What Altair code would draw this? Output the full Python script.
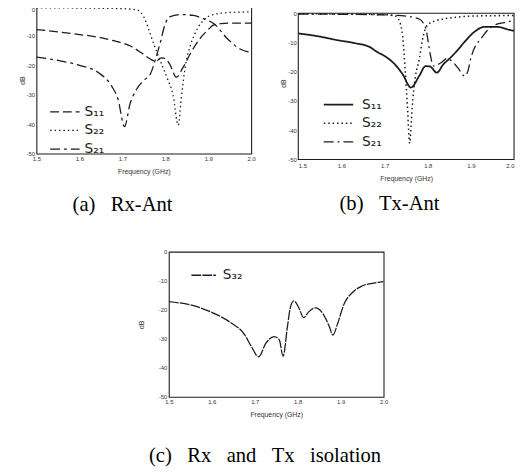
import altair as alt
import pandas as pd

X_DOMAIN = [1.5, 2.0]
X_TICKS = [1.5, 1.6, 1.7, 1.8, 1.9, 2.0]
Y_TICKS = [0, -10, -20, -30, -40, -50]
Y_FRAME = [-50, 0]

# (a) Rx-Ant
a_names = ["S\u2081\u2081", "S\u2082\u2082", "S\u2082\u2081"]
a_s11_f = [1.50, 1.55, 1.60, 1.64, 1.68, 1.72, 1.745, 1.765, 1.778, 1.79, 1.80, 1.81, 1.826, 1.84, 1.86, 1.88, 1.90, 1.913, 1.93, 1.96, 2.00]
a_s11_db = [-7.8, -8.6, -9.5, -10.3, -11.6, -13.5, -15.8, -17.8, -18.7, -17.4, -17.6, -19.5, -24.0, -21.0, -15.5, -11.0, -7.8, -6.2, -5.8, -5.6, -5.6]
a_s22_f = [1.50, 1.60, 1.70, 1.735, 1.75, 1.762, 1.775, 1.79, 1.805, 1.818, 1.83, 1.838, 1.847, 1.86, 1.875, 1.89, 1.91, 1.95, 2.00]
a_s22_db = [-0.4, -0.5, -0.7, -1.2, -3.5, -8.0, -13.5, -19.0, -24.5, -30.0, -40.3, -30.0, -20.0, -12.5, -7.5, -4.5, -2.8, -2.0, -1.8]
a_s21_f = [1.50, 1.55, 1.60, 1.644, 1.674, 1.69, 1.705, 1.718, 1.731, 1.752, 1.765, 1.777, 1.788, 1.80, 1.81, 1.833, 1.865, 1.888, 1.913, 1.947, 1.975, 2.00]
a_s21_db = [-17.2, -18.3, -20.0, -22.4, -26.8, -31.5, -40.8, -33.0, -28.6, -24.8, -23.0, -18.0, -12.4, -5.8, -3.5, -2.7, -3.0, -4.1, -5.8, -11.3, -14.5, -15.6]

# (b) Tx-Ant
b_names = ["S\u2081\u2081", "S\u2082\u2082", "S\u2082\u2081"]
b_s11_f = [1.50, 1.55, 1.59, 1.63, 1.666, 1.681, 1.704, 1.727, 1.742, 1.761, 1.78, 1.795, 1.805, 1.821, 1.836, 1.852, 1.871, 1.886, 1.908, 1.931, 1.961, 1.992, 2.00]
b_s11_db = [-6.9, -8.0, -9.2, -10.2, -11.6, -13.1, -15.0, -18.0, -20.9, -25.4, -21.5, -18.1, -18.2, -20.3, -17.5, -15.3, -12.3, -9.7, -6.4, -4.7, -4.7, -5.8, -6.0]
b_s22_f = [1.50, 1.60, 1.70, 1.725, 1.735, 1.742, 1.748, 1.753, 1.758, 1.764, 1.771, 1.78, 1.79, 1.80, 1.82, 1.86, 1.90, 2.00]
b_s22_db = [-0.2, -0.3, -0.5, -1.0, -3.0, -8.0, -20.0, -32.0, -44.4, -32.0, -22.0, -16.0, -7.5, -4.0, -2.5, -1.5, -1.0, -0.8]
b_s21_f = [1.50, 1.60, 1.70, 1.75, 1.78, 1.795, 1.806, 1.813, 1.83, 1.845, 1.86, 1.87, 1.886, 1.893, 1.90, 1.908, 1.924, 1.939, 1.954, 1.984, 2.00]
b_s21_db = [-0.3, -0.4, -0.6, -1.0, -2.0, -5.0, -14.2, -18.0, -17.0, -15.5, -17.0, -18.7, -21.5, -19.8, -15.3, -12.0, -8.6, -5.8, -4.1, -3.0, -2.4]

# (c) Rx and Tx isolation
c_names = ["S\u2083\u2082"]
c_s32_f = [1.50, 1.555, 1.608, 1.642, 1.677, 1.692, 1.709, 1.726, 1.745, 1.757, 1.766, 1.776, 1.783, 1.791, 1.802, 1.814, 1.825, 1.842, 1.859, 1.874, 1.882, 1.893, 1.908, 1.927, 1.95, 1.98, 2.00]
c_s32_db = [-17.2, -18.5, -21.4, -24.2, -28.7, -32.6, -36.2, -31.5, -29.2, -30.3, -36.0, -25.9, -19.1, -16.9, -19.1, -22.7, -20.8, -19.3, -21.4, -25.9, -28.7, -24.7, -18.0, -14.1, -11.8, -10.7, -10.3]

INK = "#1c1c1c"
TXT = "#333333"
SP = "\u00a0\u00a0\u00a0"


def series_df(items):
    rows = []
    for name, fs, ds in items:
        rows += [{"s": name, "f": f, "db": d} for f, d in zip(fs, ds)]
    return pd.DataFrame(rows)


def panel(items, dashes, widths, ydom, w, h, lx, ly, sym_len, lab_off,
          ytp, xtp, xlp, cap, cap_off, cap_dx, framed, flush_x=False, top_cond=False):
    df = series_df(items)
    names = [it[0] for it in items]
    leg = dict(orient="none", legendX=lx, legendY=ly, title=None, symbolType="stroke",
               symbolSize=sym_len ** 2, symbolStrokeColor=INK, labelFont="DejaVu Sans",
               labelFontSize=14, labelColor=INK, labelOffset=lab_off, padding=0,
               rowPadding=0, clipHeight=19)
    ybase = ({"condition": {"test": "datum.value == 0", "value": "top"}, "value": "middle"}
             if top_cond else "middle")
    xaxis = alt.Axis(values=X_TICKS, format=".1f", title="Frequency (GHz)", labelFont="Liberation Sans",
                     labelFontSize=6, labelColor=TXT, labelPadding=xlp, titleFont="Liberation Sans",
                     titleFontSize=7, titleFontWeight="normal", titleColor=TXT, titlePadding=xtp,
                     ticks=False, domain=False, grid=False, labelFlush=flush_x)
    yaxis = alt.Axis(values=Y_TICKS, labelExpr="'' + datum.value", title="dB", labelFont="Liberation Sans",
                     labelFontSize=6, labelColor=TXT, labelPadding=2, labelBaseline=ybase,
                     titleFont="Liberation Sans", titleFontSize=7, titleFontWeight="normal",
                     titleColor=TXT, titlePadding=ytp, ticks=False, domain=False, grid=False)
    xenc = alt.X("f:Q", scale=alt.Scale(domain=X_DOMAIN, nice=False, zero=False), axis=xaxis)
    yenc = alt.Y("db:Q", scale=alt.Scale(domain=ydom, nice=False, zero=False), axis=yaxis)
    enc = dict(x=xenc, y=yenc,
               strokeDash=alt.StrokeDash("s:N", scale=alt.Scale(domain=names, range=dashes),
                                         legend=alt.Legend(**leg)))
    if len(names) > 1:
        enc["strokeWidth"] = alt.StrokeWidth("s:N", scale=alt.Scale(domain=names, range=widths),
                                             legend=alt.Legend(**leg))
        lines = alt.Chart(df).mark_line(color=INK, clip=True, interpolate="monotone").encode(**enc)
    else:
        lines = alt.Chart(df).mark_line(color=INK, clip=True, interpolate="monotone",
                                        strokeWidth=widths[0]).encode(**enc)
    title = alt.TitleParams(text=cap, orient="bottom", anchor="middle", frame="group",
                            font="Liberation Serif", fontSize=21, fontWeight="normal",
                            color="black", offset=cap_off, dx=cap_dx)
    if framed:
        fdf = pd.DataFrame({"f": [X_DOMAIN[0]], "f2": [X_DOMAIN[1]], "db": [Y_FRAME[0]], "db2": [Y_FRAME[1]]})
        frame = alt.Chart(fdf).mark_rect(fillOpacity=0, stroke=INK, strokeWidth=1.1).encode(
            x=xenc, x2="f2", y=yenc, y2="db2")
        ch = alt.layer(frame, lines).properties(view=alt.ViewBackground(stroke="transparent"))
    else:
        ch = lines.properties(view=alt.ViewBackground(stroke=INK, strokeWidth=1.1))
    return ch.properties(width=w, height=h, title=title)


pa = panel([(a_names[0], a_s11_f, a_s11_db), (a_names[1], a_s22_f, a_s22_db), (a_names[2], a_s21_f, a_s21_db)],
           [[9, 4], [1.5, 3], [10, 4, 3, 4]], [1.3, 1.3, 1.3], [-50, 0], 219, 150,
           13, 97.8, 30, 4, 1, 6, 2, "(a)" + SP + "Rx-Ant", 20, -21.7, False, top_cond=True)
pb = panel([(b_names[0], b_s11_f, b_s11_db), (b_names[1], b_s22_f, b_s22_db), (b_names[2], b_s21_f, b_s21_db)],
           [[1, 0], [1.5, 3], [10, 4, 2, 4]], [1.8, 1.3, 1.3], [-50, 2.25], 220, 156,
           25, 90.5, 30, 8, 1, 6, 3, "(b)" + SP + "Tx-Ant", 12, -17, True, flush_x=True)
pc = panel([(c_names[0], c_s32_f, c_s32_db)],
           [[10, 1.2]], [1.3], [-50, 0], 219, 148,
           22, 14.5, 25, 6, 14, 6, 2, "(c)" + SP + "Rx" + SP + "and" + SP + "Tx" + SP + "isolation",
           28, -11.5, False)

spacer = alt.Chart(pd.DataFrame({"v": [0]})).mark_point(opacity=0).properties(
    width=101, height=10, view=alt.ViewBackground(stroke="transparent"))


def indep(ch):
    return ch.resolve_scale(strokeDash="independent", strokeWidth="independent").resolve_legend(
        strokeDash="independent", strokeWidth="independent")


row1 = indep(alt.hconcat(pa, pb, spacing=23))
row2 = indep(alt.hconcat(spacer, pc, spacing=0))

chart = indep(alt.vconcat(row1, row2, spacing=33)).properties(
    padding={"left": 9, "top": -7, "right": 0, "bottom": 0}, background="white")

chart.save("out.html", embed_options={"renderer": "svg", "actions": False})
